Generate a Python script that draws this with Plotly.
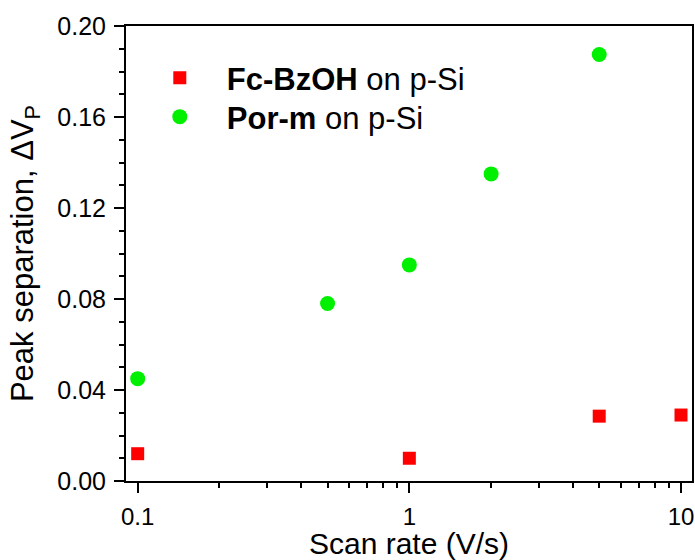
import plotly.graph_objects as go

# Data
fc_x = [0.1, 1, 5, 10]
fc_y = [0.012, 0.010, 0.0285, 0.029]
por_x = [0.1, 0.5, 1, 2, 5]
por_y = [0.045, 0.078, 0.095, 0.135, 0.1875]

x_tickvals = [0.1, 1, 10]
x_ticktext = ["0.1", "1", "10"]
x_minorvals = [0.09, 0.2, 0.3, 0.4, 0.5, 0.6, 0.7, 0.8, 0.9,
               2, 3, 4, 5, 6, 7, 8, 9]
y_tickvals = [0.00, 0.04, 0.08, 0.12, 0.16, 0.20]

FONT = "Arial, Liberation Sans, sans-serif"

fig = go.Figure()
fig.add_trace(go.Scatter(
    x=fc_x, y=fc_y, mode="markers",
    name="<b>Fc-BzOH</b> on p-Si",
    marker=dict(symbol="square", size=13, color="#ff0000"),
    legend="legend",
))
fig.add_trace(go.Scatter(
    x=por_x, y=por_y, mode="markers",
    name="<b>Por-m</b> on p-Si",
    marker=dict(symbol="circle", size=15, color="#00f000"),
    legend="legend2",
))

leg_common = dict(
    xanchor="left", yanchor="middle",
    bgcolor="rgba(0,0,0,0)", borderwidth=0,
    font=dict(size=31, family=FONT),
    itemwidth=84,
)

fig.update_layout(
    width=695, height=560,
    margin=dict(l=126, r=3, t=26, b=79),
    paper_bgcolor="white", plot_bgcolor="white",
    font=dict(family=FONT, color="black", size=25),
    showlegend=True,
    legend=dict(x=0.012, y=(481 - 78) / 455, **leg_common),
    legend2=dict(x=0.012, y=(481 - 117) / 455, **leg_common),
)

fig.update_xaxes(
    type="log", range=[-1.043, 1.0405], automargin=False,
    tickvals=x_tickvals, ticktext=x_ticktext,
    ticks="outside", ticklen=10, tickwidth=1.5, tickcolor="black",
    minor=dict(tickvals=x_minorvals, ticks="outside", ticklen=5,
               tickwidth=1.5, tickcolor="black", showgrid=False),
    showline=True, linewidth=2, linecolor="black", mirror=True,
    showgrid=False, zeroline=False,
    tickfont=dict(size=24), ticklabelstandoff=3,
    title=dict(text="Scan rate (V/s)", font=dict(size=30), standoff=9),
)
fig.update_yaxes(
    range=[0, 0.2], automargin=False,
    tickvals=y_tickvals, tickformat=".2f",
    ticks="outside", ticklen=10, tickwidth=1.5, tickcolor="black",
    minor=dict(dtick=0.01, ticks="outside", ticklen=5,
               tickwidth=1.5, tickcolor="black", showgrid=False),
    showline=True, linewidth=2, linecolor="black", mirror=True,
    showgrid=False, zeroline=False,
    tickfont=dict(size=25), ticklabelstandoff=3,
    title=dict(text="Peak separation, ΔV<sub>P</sub>", font=dict(size=31), standoff=14),
)

fig.write_html("out.html")
